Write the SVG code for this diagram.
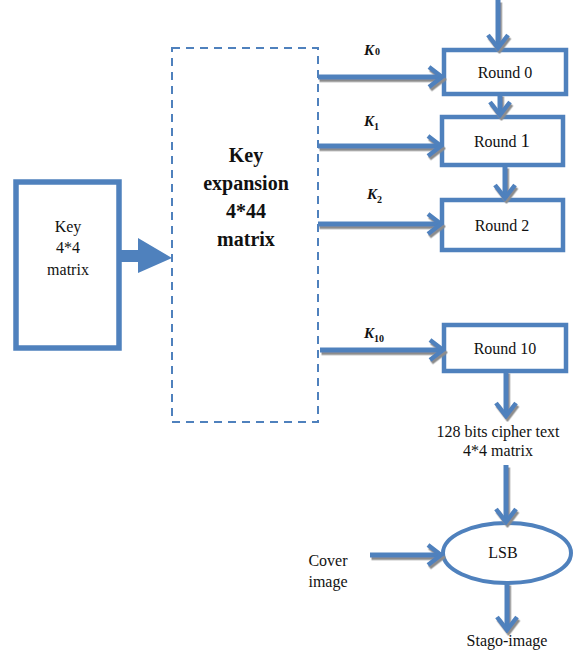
<svg xmlns="http://www.w3.org/2000/svg" width="574" height="651" viewBox="0 0 574 651">
<style>
.box{fill:#fff;stroke:#4f81bd;stroke-width:4.5}
.dash{fill:#fff;stroke:#4f81bd;stroke-width:2;stroke-dasharray:8,6}
.t{font-size:16px;fill:#111;text-anchor:middle}
.b{font-weight:bold;font-size:20px}
.k{font-size:15px;font-weight:bold;font-style:italic;fill:#111}
.sub{font-size:10px;font-style:normal}
.c{fill:none;stroke:#4f81bd;stroke-width:5;marker-end:url(#ah)}
</style>
<defs>
<marker id="ah" markerUnits="userSpaceOnUse" markerWidth="20" markerHeight="24" refX="17" refY="12" orient="auto" viewBox="0 0 20 24">
<path d="M4,2 L17,12 L4,22" fill="none" stroke="#4f81bd" stroke-width="4.5" stroke-linejoin="miter"/>
</marker>
<filter id="sh" x="-10%" y="-30%" width="130%" height="170%">
<feDropShadow dx="1.5" dy="2.5" stdDeviation="0.4" flood-color="#8c8c8c" flood-opacity="1"/>
</filter>
</defs>

<g font-family="Liberation Serif, Times New Roman, serif">
<g id="key">
<rect class="box" x="16" y="182" width="103" height="166" style="stroke-width:5.5"/>
<text class="t" x="68" y="232">Key</text>
<text class="t" x="68" y="253">4*4</text>
<text class="t" x="68" y="275">matrix</text>
</g>

<g id="keyexp">
<rect class="dash" x="172" y="48" width="146" height="374"/>
<text class="t b" x="246" y="162">Key</text>
<text class="t b" x="246" y="190">expansion</text>
<text class="t b" x="246" y="218">4*44</text>
<text class="t b" x="246" y="246">matrix</text>
</g>

<g id="round0">
<rect class="box" x="444" y="50" width="122" height="44"/>
<text class="t" x="505" y="78">Round 0</text>
</g>
<g id="round1">
<rect class="box" x="442" y="117" width="121" height="48"/>
<text class="t" x="502" y="147">Round <tspan style="font-size:19px">1</tspan></text>
</g>
<g id="round2">
<rect class="box" x="442" y="200" width="121" height="50"/>
<text class="t" x="502" y="231">Round 2</text>
</g>
<g id="round10">
<rect class="box" x="444" y="325" width="122" height="46"/>
<text class="t" x="505" y="354">Round 10</text>
</g>

<g id="cipher">
<text class="t" x="498" y="437">128 bits cipher text</text>
<text class="t" x="498" y="456">4*4 matrix</text>
</g>

<g id="lsb">
<ellipse cx="507" cy="553" rx="64" ry="30" fill="#fff" stroke="#4f81bd" stroke-width="4"/>
<text class="t" x="503" y="558">LSB</text>
</g>

<g id="cover">
<text class="t" x="328" y="566">Cover</text>
<text class="t" x="328" y="587">image</text>
</g>

<g id="stago">
<text class="t" x="507" y="646">Stago-image</text>
</g>

<g id="labels">
<text class="k" x="364" y="55">K<tspan class="sub" dx="1">0</tspan></text>
<text class="k" x="364" y="126">K<tspan class="sub" dy="4">1</tspan></text>
<text class="k" x="367" y="199">K<tspan class="sub" dy="4">2</tspan></text>
<text class="k" x="364" y="338">K<tspan class="sub" dy="4">10</tspan></text>
</g>
</g>

<g id="connectors">
<polygon points="119,250 138,250 138,238 172,258 138,273 138,262 119,262" fill="#4f81bd"/>
<g filter="url(#sh)">
<path class="c" d="M318,77 H442"/>
<path class="c" d="M318,146 H441"/>
<path class="c" d="M318,224 H441"/>
<path class="c" d="M320,350 H443"/>
<path class="c" d="M498,0 V48"/>
<path class="c" d="M500,94 V115"/>
<path class="c" d="M505,166 V198"/>
<path class="c" d="M506,371 V416"/>
<path class="c" d="M506,465 V522"/>
<path class="c" d="M370,555 H441"/>
<path class="c" d="M507,583 V630"/>
</g>
</g>
</svg>
